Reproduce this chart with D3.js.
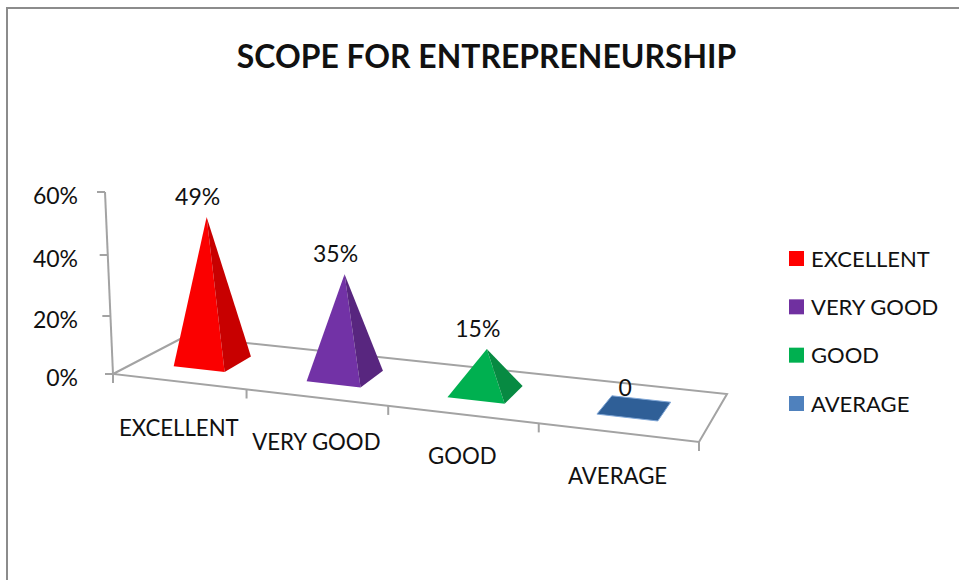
<!DOCTYPE html>
<html>
<head>
<meta charset="utf-8">
<script src="https://cdn.jsdelivr.net/npm/d3@7"></script>
<style>
  html, body { margin: 0; padding: 0; background: #fff; }
  svg { display: block; }
  text { font-family: Lato, "Open Sans", sans-serif; fill: #111; }
</style>
</head>
<body>
<div class="canvas"></div>
<script>
const categories = ["EXCELLENT", "VERY GOOD", "GOOD", "AVERAGE"];
const values = [0.49, 0.35, 0.15, 0];
const valueLabels = ["49%", "35%", "15%", "0"];
const yTicks = [0, 0.2, 0.4, 0.6];
const yTickLabels = ["0%", "20%", "40%", "60%"];
const frontColors = ["#fb0000", "#7232a6", "#00b050", "#2f5f97"];
const sideColors = ["#c80000", "#58267f", "#078a42", "#2f5f97"];
const legendColors = ["#ff0000", "#7030a0", "#00b050", "#4f81bd"];

const dims = { width: 959, height: 580 };
const gridColor = "#a3a3a3";

// floor corners of the 3d plot, on screen
const floor = {
  fl: [113, 374],
  fr: [699, 442],
  br: [727, 394],
  bl: [185, 336.5],
};

// maps the unit square onto the floor quad (perspective)
const makeHomography = ({ fl, fr, br, bl }) => {
  const dx1 = fr[0] - br[0],
    dx2 = bl[0] - br[0],
    sx = fl[0] - fr[0] + br[0] - bl[0];
  const dy1 = fr[1] - br[1],
    dy2 = bl[1] - br[1],
    sy = fl[1] - fr[1] + br[1] - bl[1];
  const den = dx1 * dy2 - dx2 * dy1;
  const g = (sx * dy2 - dx2 * sy) / den;
  const h = (dx1 * sy - sx * dy1) / den;
  const a = fr[0] - fl[0] + g * fr[0];
  const b = bl[0] - fl[0] + h * bl[0];
  const d = fr[1] - fl[1] + g * fr[1];
  const e = bl[1] - fl[1] + h * bl[1];
  return (u, v) => {
    const w = g * u + h * v + 1;
    return [(a * u + b * v + fl[0]) / w, (d * u + e * v + fl[1]) / w];
  };
};
const project = makeHomography(floor);

const xScale = d3
  .scaleBand()
  .domain(categories)
  .range([0, 1])
  .paddingInner(0)
  .paddingOuter(0);

// the value axis gets longer towards the top because of the perspective
const yScale = d3
  .scaleLinear()
  .domain(yTicks)
  .range([374, 316, 255, 192]);

const axisX = d3.scaleLinear().domain([0, 0.6]).range([113, 105]);

const lean = (x) => (x - 370) * 0.00027; // verticals converge slightly

const rise = (base, value) => {
  const height = (yScale(0) - yScale(value)) * 0.98;
  return [base[0] + lean(base[0]) * height, base[1] - height];
};

const svg = d3
  .select(".canvas")
  .append("svg")
  .attr("width", dims.width)
  .attr("height", dims.height);

svg
  .append("rect")
  .attr("width", dims.width)
  .attr("height", dims.height)
  .attr("fill", "#fff");

// chart frame, runs off the right and the bottom
svg
  .append("path")
  .attr("d", `M7,${dims.height}V8H${dims.width}`)
  .attr("fill", "none")
  .attr("stroke", "#8c8c8c")
  .attr("stroke-width", 2);

svg
  .append("text")
  .attr("x", 486.5)
  .attr("y", 68)
  .attr("text-anchor", "middle")
  .attr("font-size", 31.9)
  .attr("font-weight", 700)
  .text("SCOPE FOR ENTREPRENEURSHIP");

const axes = svg
  .append("g")
  .attr("fill", "none")
  .attr("stroke", gridColor)
  .attr("stroke-width", 2);

// floor outline and value axis
const line = d3.line();
axes
  .append("path")
  .attr("d", line([floor.bl, floor.fl, floor.fr, floor.br, floor.bl]));

axes
  .append("path")
  .attr("d", line([[axisX(0), yScale(0)], [axisX(0.6), yScale(0.6)]]));

yTicks.forEach((tick, i) => {
  const x = axisX(tick);
  axes
    .append("path")
    .attr("d", line([[x - 8, yScale(tick)], [x, yScale(tick)]]));
  svg
    .append("text")
    .attr("x", 78)
    .attr("y", yScale(tick) + 12)
    .attr("text-anchor", "end")
    .attr("font-size", 23)
    .text(yTickLabels[i]);
});

// category ticks along the front edge
d3.range(categories.length + 1).forEach((i) => {
  const [x, y] = project(i / categories.length, 0);
  axes.append("path").attr("d", line([[x, y], [x, y + 9]]));
});

const bandW = xScale.bandwidth();
const graph = svg.append("g");
const labelNudge = [3, 1, -2, 0]; // excel staggers these a little

categories.forEach((cat, i) => {
  const mid = xScale(cat) + bandW * 0.49;
  const left = mid - bandW * 0.195;
  const right = mid + bandW * 0.195;
  const fl = project(left, 0.3);
  const fr = project(right, 0.3);
  const br = project(right, 0.7);
  const bl = project(left, 0.7);
  const centre = project(mid, 0.5);

  if (values[i] === 0) {
    graph
      .append("path")
      .attr("d", line([fl, fr, br, bl]) + "Z")
      .attr("fill", frontColors[i])
      .attr("stroke", "#7fa6d6")
      .attr("stroke-width", 1);
  } else {
    const apex = rise(centre, values[i]);
    graph
      .append("path")
      .attr("d", line([apex, fl, fr]) + "Z")
      .attr("fill", frontColors[i]);
    graph
      .append("path")
      .attr("d", line([apex, fr, br]) + "Z")
      .attr("fill", sideColors[i]);
  }

  const top = rise(centre, values[i]);
  svg
    .append("text")
    .attr("x", top[0] - 9)
    .attr("y", top[1] - 12)
    .attr("text-anchor", "middle")
    .attr("font-size", 23)
    .text(valueLabels[i]);

  const [lx, ly] = project(xScale(cat) + bandW / 2, 0);
  svg
    .append("text")
    .attr("x", lx)
    .attr("y", ly + 51 + labelNudge[i])
    .attr("text-anchor", "middle")
    .attr("font-size", 22.2)
    .text(cat);
});

// legend
const legendY = d3.scalePoint().domain(categories).range([258.5, 403.5]);
const legend = svg
  .selectAll(".legend")
  .data(categories)
  .enter()
  .append("g")
  .attr("class", "legend")
  .attr("transform", (d) => `translate(789, ${legendY(d)})`);

legend
  .append("rect")
  .attr("y", -7.5)
  .attr("width", 15)
  .attr("height", 15)
  .attr("fill", (d, i) => legendColors[i]);

legend
  .append("text")
  .attr("x", 22)
  .attr("y", 8)
  .attr("font-size", 22)
  .text((d) => d);
</script>
</body>
</html>
